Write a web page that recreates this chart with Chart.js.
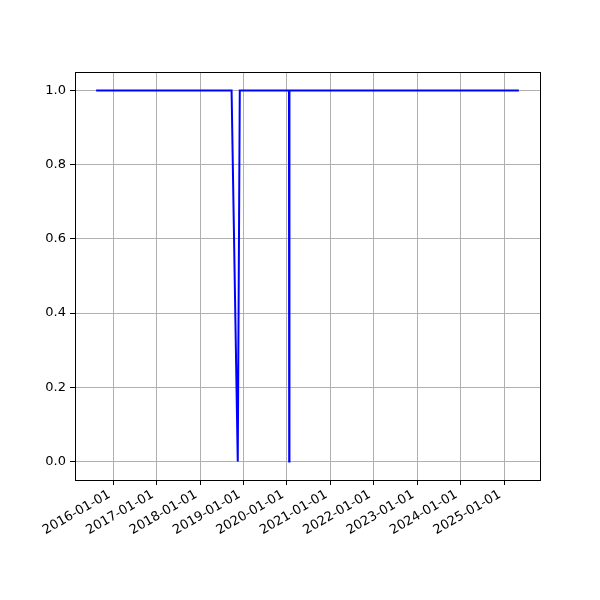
<!DOCTYPE html>
<html>
<head>
<meta charset="utf-8">
<script src="https://cdn.jsdelivr.net/npm/chart.js@4/dist/chart.umd.min.js"></script>
<style>
    html, body { margin: 0; padding: 0; background: #fff; }
    canvas { display: block; }
</style>
</head>
<body>
<canvas id="chart" width="600" height="600"></canvas>
<script>
// Data
const dates = ['2015-08-09', '2018-09-22', '2018-11-13', '2018-11-30', '2020-01-18', '2020-01-20', '2020-01-22', '2025-05-06'];
const values = [1, 1, 0, 1, 1, 0, 1, 1];
const tickDates = ['2016-01-01', '2017-01-01', '2018-01-01', '2019-01-01', '2020-01-01', '2021-01-01', '2022-01-01', '2023-01-01', '2024-01-01', '2025-01-01'];
const yTicks = [0.0, 0.2, 0.4, 0.6, 0.8, 1.0];

function toTime(s) {
    return Date.parse(s + 'T00:00:00Z');
}

function fmtDate(t) {
    return new Date(t).toISOString().slice(0, 10);
}

const points = dates.map((d, i) => ({ x: toTime(d), y: values[i] }));
const first = points[0].x;
const last = points[points.length - 1].x;
const pad = (last - first) * 0.05;

// Draw the full box around the plot area
const frame = {
    id: 'frame',
    afterDraw(chart) {
        const a = chart.chartArea;
        const ctx = chart.ctx;
        ctx.save();
        ctx.strokeStyle = '#000';
        ctx.lineWidth = 1;
        ctx.strokeRect(Math.round(a.left) + 0.5, Math.round(a.top) + 0.5, Math.round(a.right - a.left), Math.round(a.bottom - a.top));
        ctx.restore();
    }
};

const font = { family: 'DejaVu Sans', size: 13 };

new Chart(document.getElementById('chart').getContext('2d'), {
    type: 'line',
    data: {
        datasets: [{
            data: points,
            borderColor: '#0000ff',
            borderWidth: 2,
            pointRadius: 0,
            tension: 0,
            fill: false
        }]
    },
    options: {
        responsive: false,
        animation: false,
        layout: { padding: { left: 0, top: 72, right: 60, bottom: 0 } },
        plugins: {
            legend: { display: false },
            tooltip: { enabled: false }
        },
        scales: {
            x: {
                type: 'linear',
                min: first - pad,
                max: last + pad,
                afterFit(scale) { scale.height = 120; },
                afterBuildTicks(scale) {
                    scale.ticks = tickDates.map(d => ({ value: toTime(d) }));
                },
                ticks: {
                    color: '#000',
                    font: font,
                    minRotation: 30,
                    maxRotation: 30,
                    padding: 2,
                    labelOffset: -4,
                    autoSkip: false,
                    callback: v => fmtDate(v)
                },
                grid: { color: '#b0b0b0', tickColor: '#000', tickLength: 5, lineWidth: 1 },
                border: { display: false }
            },
            y: {
                min: -0.05,
                max: 1.05,
                afterFit(scale) { scale.width = 75; },
                afterBuildTicks(scale) {
                    scale.ticks = yTicks.map(v => ({ value: v }));
                },
                ticks: {
                    color: '#000',
                    font: font,
                    padding: 4,
                    callback: v => v.toFixed(1)
                },
                grid: { color: '#b0b0b0', tickColor: '#000', tickLength: 5, lineWidth: 1 },
                border: { display: false }
            }
        }
    },
    plugins: [frame]
});
</script>
</body>
</html>
